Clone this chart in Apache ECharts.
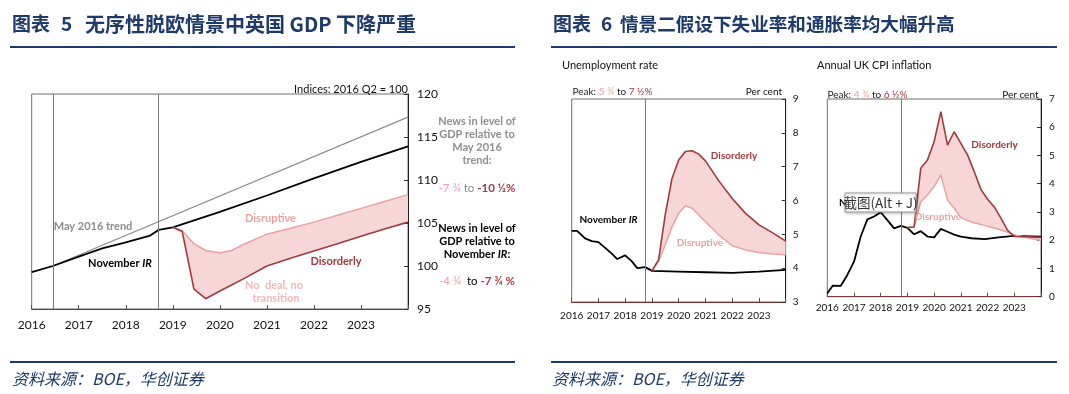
<!DOCTYPE html>
<html><head><meta charset="utf-8">
<script src="https://cdn.jsdelivr.net/npm/echarts@6/dist/echarts.min.js"></script>
<style>html,body{margin:0;padding:0;background:#fff}#c{width:1069px;height:394px}</style>
</head><body><div id="c"></div>
<script>
// ---------- DATA ----------
// Left: UK GDP, index 2016 Q2 = 100
const gdpIRX = [2016, 2016.45, 2017, 2017.5, 2018, 2018.5, 2018.7, 2019, 2020, 2021, 2022, 2023, 2024];
const gdpIR = [99.3, 100.0, 101.1, 102.05, 102.75, 103.5, 104.2, 104.5, 106.3, 108.2, 110.2, 112.1, 113.9];
const gdpTrendX = [2016.45, 2024];
const gdpTrend = [100.0, 117.3];
const gdpScenX = [2019, 2019.2, 2019.45, 2019.7, 2020, 2020.25, 2020.5, 2021, 2021.5, 2022, 2022.5, 2023, 2023.5, 2024];
const gdpDisruptive = [104.5, 104.1, 102.6, 101.8, 101.55, 101.8, 102.5, 103.7, 104.4, 105.1, 105.9, 106.7, 107.5, 108.3];
const gdpDisorderly = [104.5, 104.0, 97.3, 96.2, 97.1, 97.8, 98.5, 100.0, 100.9, 101.75, 102.6, 103.45, 104.3, 105.1];
const gdpRefLines = [2016.45, 2018.7];

// Unemployment rate, per cent
const unIRX = [2016, 2016.2, 2016.5, 2016.75, 2017, 2017.25, 2017.5, 2017.7, 2018, 2018.25, 2018.45, 2018.75, 2019, 2020, 2021, 2022, 2023, 2024];
const unIR = [5.1, 5.1, 4.88, 4.8, 4.77, 4.6, 4.43, 4.27, 4.38, 4.2, 4.0, 4.03, 3.92, 3.9, 3.88, 3.86, 3.9, 3.95];
const unScenX = [2019, 2019.25, 2019.5, 2019.75, 2020, 2020.25, 2020.5, 2020.75, 2021, 2021.5, 2022, 2022.5, 2023, 2023.5, 2024];
const unDisruptive = [3.92, 4.2, 4.7, 5.22, 5.62, 5.84, 5.77, 5.57, 5.37, 4.98, 4.66, 4.54, 4.46, 4.42, 4.40];
const unDisorderly = [3.92, 4.25, 5.6, 6.65, 7.2, 7.45, 7.47, 7.37, 7.17, 6.58, 6.06, 5.62, 5.28, 5.05, 4.8];

// Annual UK CPI inflation, per cent
const cpiIRX = [2016, 2016.2, 2016.5, 2016.75, 2017, 2017.25, 2017.5, 2017.75, 2018, 2018.25, 2018.5, 2018.75, 2019, 2019.25, 2019.5, 2019.75, 2020, 2020.25, 2020.5, 2020.75, 2021, 2021.4, 2021.9, 2022.4, 2023, 2024];
const cpiIR = [0.12, 0.39, 0.38, 0.77, 1.24, 2.13, 2.74, 2.84, 2.99, 2.71, 2.42, 2.51, 2.44, 2.21, 2.32, 2.13, 2.1, 2.4, 2.3, 2.2, 2.13, 2.07, 2.04, 2.1, 2.15, 2.13];
const cpiScenX = [2019, 2019.25, 2019.5, 2019.75, 2020, 2020.25, 2020.5, 2020.75, 2021, 2021.25, 2021.5, 2021.75, 2022, 2022.25, 2022.5, 2022.75, 2023, 2023.5, 2024];
const cpiDisruptive = [2.45, 2.47, 3.36, 3.6, 3.9, 4.31, 3.42, 3.13, 2.8, 2.7, 2.62, 2.56, 2.49, 2.43, 2.36, 2.28, 2.19, 2.09, 1.99];
const cpiDisorderly = [2.45, 2.47, 4.55, 4.84, 5.49, 6.55, 5.37, 5.84, 5.43, 5.02, 4.43, 3.8, 3.45, 3.18, 2.78, 2.35, 2.13, 2.12, 2.1];
const scenRefLine = 2018.75;

const yearTicks = ['2016', '2017', '2018', '2019', '2020', '2021', '2022', '2023'];

// ---------- STYLE ----------
const F = 'Lato, "Open Sans", "Noto Sans", sans-serif';
const CJK = '"Noto Sans CJK SC", sans-serif';
const NAVY = '#1d3a6a';
const C_IR = '#000000', C_TREND = '#8e8e8e', C_DISR = '#e9a3a3', C_DISO = '#a23a3e', C_FILL = '#f6d6d6';

const zip = (xs, ys) => xs.map((x, i) => [x, ys[i]]);

function xAxisCfg(gi, fs, margin) {
  return {
    type: 'value', gridIndex: gi, min: 2016, max: 2024, interval: 1,
    axisLine: { show: true, lineStyle: { color: '#7a3336', width: 1 } },
    axisTick: { show: true, inside: true, length: 4, lineStyle: { color: '#555' } },
    axisLabel: { fontFamily: F, fontSize: fs, color: '#111', margin: margin,
      formatter: v => { const i = Math.round(v - 2016); return yearTicks[i] || ''; } },
    splitLine: { show: false }
  };
}
function yAxisCfg(gi, min, max, interval, fs, margin) {
  return {
    type: 'value', gridIndex: gi, position: 'right', min, max, interval,
    axisLine: { show: true, onZero: false, lineStyle: { color: '#222', width: 1 } },
    axisTick: { show: true, inside: true, length: 4, lineStyle: { color: '#333' } },
    axisLabel: { fontFamily: F, fontSize: fs, color: '#111', margin: margin },
    splitLine: { show: false }
  };
}
function line(gi, data, color, width, extra) {
  return Object.assign({ type: 'line', xAxisIndex: gi, yAxisIndex: gi, data, symbol: 'none',
    lineStyle: { color, width }, silent: true, animation: false, z: 3 }, extra || {});
}
// shaded range between two scenario paths, drawn through the axes' own scales
function band(gi, xs, lower, upper) {
  return {
    type: 'custom', xAxisIndex: gi, yAxisIndex: gi, coordinateSystem: 'cartesian2d',
    silent: true, z: 1, animation: false,
    data: [[xs[0], lower[0]]],
    renderItem: (params, api) => {
      const pts = xs.map((x, i) => api.coord([x, upper[i]]));
      for (let i = xs.length - 1; i >= 0; i--) pts.push(api.coord([xs[i], lower[i]]));
      return { type: 'polygon', shape: { points: pts }, style: { fill: C_FILL, stroke: null } };
    }
  };
}
function refLines(vals) {
  return { silent: true, symbol: 'none', label: { show: false },
    lineStyle: { color: '#7a7a7a', width: 1, type: 'solid' },
    data: vals.map(v => ({ xAxis: v })) };
}

function txt(x, y, text, opts) {
  const o = opts || {};
  return { type: 'text', x, y, silent: true, z: o.z || 50,
    style: { text, font: o.font || ('11px ' + F), fill: o.fill || '#111',
      align: o.align || 'left', verticalAlign: o.va || 'middle' } };
}
function rtxt(x, y, text, rich, align, font) {
  return { type: 'text', x, y, silent: true, z: 50,
    style: { text, rich, font: font || ('11px ' + F), fill: '#000', align: align || 'left', verticalAlign: 'middle' } };
}
const rs = (size, fill, bold, italic) => ({ fontFamily: F, fontSize: size, fill, fontWeight: bold ? 'bold' : 'normal', fontStyle: italic ? 'italic' : 'normal' });

const chart = echarts.init(document.getElementById('c'), null, { renderer: 'canvas' });

const graphics = [
  // titles
  txt(12, 24, '图表', { font: 'bold 19px ' + CJK, fill: NAVY }),
  txt(61, 24, '5', { font: 'bold 19px ' + CJK, fill: NAVY }),
  txt(85, 24, '无序性脱欧情景中英国 GDP 下降严重', { font: 'bold 20px ' + CJK, fill: NAVY }),
  txt(553, 24, '图表', { font: 'bold 19px ' + CJK, fill: NAVY }),
  txt(601, 24, '6', { font: 'bold 19px ' + CJK, fill: NAVY }),
  txt(620, 24, '情景二假设下失业率和通胀率均大幅升高', { font: 'bold 18.6px ' + CJK, fill: NAVY }),
  { type: 'line', silent: true, shape: { x1: 10, y1: 47, x2: 515, y2: 47 }, style: { stroke: NAVY, lineWidth: 2 } },
  { type: 'line', silent: true, shape: { x1: 551, y1: 47, x2: 1057, y2: 47 }, style: { stroke: NAVY, lineWidth: 2 } },
  { type: 'line', silent: true, shape: { x1: 10, y1: 362, x2: 515, y2: 362 }, style: { stroke: NAVY, lineWidth: 2 } },
  { type: 'line', silent: true, shape: { x1: 551, y1: 362, x2: 1057, y2: 362 }, style: { stroke: NAVY, lineWidth: 2 } },
  txt(12, 379, '资料来源：BOE，华创证券', { font: 'italic 16px ' + CJK, fill: NAVY }),
  txt(552, 379, '资料来源：BOE，华创证券', { font: 'italic 16px ' + CJK, fill: NAVY }),

  // GDP panel texts
  txt(408, 89, 'Indices: 2016 Q2 = 100', { font: '11px ' + F, fill: '#111', align: 'right' }),
  txt(93, 226, 'May 2016 trend', { font: 'bold 11px ' + F, fill: C_TREND, align: 'center' }),
  rtxt(120, 263.5, '{n|November }{i|IR}', { n: rs(11, '#000', true), i: rs(11, '#000', true, true) }, 'center'),
  txt(270.5, 218.5, 'Disruptive', { font: 'bold 11px ' + F, fill: C_DISR, align: 'center' }),
  txt(336, 261.5, 'Disorderly', { font: 'bold 11px ' + F, fill: C_DISO, align: 'center' }),
  txt(274, 285, 'No  deal, no', { font: 'bold 11px ' + F, fill: '#f1b8b8', align: 'center' }),
  txt(276, 298.5, 'transition', { font: 'bold 11px ' + F, fill: '#f1b8b8', align: 'center' }),
  txt(477, 121, 'News in level of', { font: 'bold 11px ' + F, fill: C_TREND, align: 'center' }),
  txt(477, 134, 'GDP relative to', { font: 'bold 11px ' + F, fill: C_TREND, align: 'center' }),
  txt(477, 147.5, 'May 2016', { font: 'bold 11px ' + F, fill: C_TREND, align: 'center' }),
  txt(477, 160.5, 'trend:', { font: 'bold 11px ' + F, fill: C_TREND, align: 'center' }),
  rtxt(477, 188, '{a|-7 ¾} {b|to} {c|-10 ½%}', { a: rs(11.5, C_DISR), b: rs(11.5, C_TREND), c: rs(11.5, C_DISO, true) }, 'center'),
  txt(477, 228.5, 'News in level of', { font: 'bold 11px ' + F, fill: '#000', align: 'center' }),
  txt(477, 241.5, 'GDP relative to', { font: 'bold 11px ' + F, fill: '#000', align: 'center' }),
  rtxt(477, 254.5, '{n|November }{i|IR}{n|:}', { n: rs(11, '#000', true), i: rs(11, '#000', true, true) }, 'center'),
  rtxt(477, 281, '{a|-4 ¾}  {b|to} {c|-7 ¾ %}', { a: rs(11.5, C_DISR), b: rs(11.5, '#000'), c: rs(11.5, C_DISO, true) }, 'center'),

  // Unemployment texts
  txt(562, 65.5, 'Unemployment rate', { font: '11px ' + F, fill: '#111' }),
  rtxt(572.5, 92, '{b|Peak: }{a|5 ¾}{b| to }{c|7 ½%}', { a: rs(10, C_DISR), b: rs(10, '#222'), c: rs(10, C_DISO) }, 'left'),
  txt(782, 91.5, 'Per cent', { font: '10px ' + F, fill: '#111', align: 'right' }),
  txt(734, 156, 'Disorderly', { font: 'bold 10px ' + F, fill: C_DISO, align: 'center' }),
  txt(700, 243, 'Disruptive', { font: 'bold 10px ' + F, fill: C_DISR, align: 'center' }),
  rtxt(608.5, 219.5, '{n|November }{i|IR}', { n: rs(10, '#000', true), i: rs(10, '#000', true, true) }, 'center'),

  // CPI texts
  txt(817, 65.5, 'Annual UK CPI inflation', { font: '11px ' + F, fill: '#111' }),
  rtxt(827.5, 94.5, '{b|Peak: }{a|4 ¾}{b| to }{c|6 ½%}', { a: rs(10, C_DISR), b: rs(10, '#222'), c: rs(10, C_DISO) }, 'left'),
  txt(1038.5, 94.5, 'Per cent', { font: '10px ' + F, fill: '#111', align: 'right' }),
  txt(994.5, 145, 'Disorderly', { font: 'bold 10px ' + F, fill: C_DISO, align: 'center' }),
  txt(938, 217, 'Disruptive', { font: 'bold 10px ' + F, fill: C_DISR, align: 'center' }),
  rtxt(839, 203, '{n|November }{i|IR}', { n: rs(10, '#000', true), i: rs(10, '#000', true, true) }, 'left'),
  // screenshot tooltip overlay seen in the reference
  { type: 'rect', silent: true, z: 60, shape: { x: 845, y: 193, width: 71, height: 19 },
    style: { fill: '#fff', stroke: '#9a9a9a', lineWidth: 1, shadowBlur: 3, shadowColor: 'rgba(0,0,0,0.25)', shadowOffsetX: 1, shadowOffsetY: 1 } },
  txt(880.5, 202.5, '截图(Alt + J)', { font: '13.5px ' + CJK, fill: '#333', align: 'center', z: 61 })
];

const option = {
  backgroundColor: '#fff',
  animation: false,
  grid: [
    { left: 31.7, top: 94, width: 376.3, height: 215, show: true, borderColor: '#6f6f6f', borderWidth: 1, containLabel: false },
    { left: 571.7, top: 99, width: 214, height: 203, show: true, borderColor: '#6f6f6f', borderWidth: 1, containLabel: false },
    { left: 827.3, top: 99, width: 213.7, height: 197.7, show: true, borderColor: '#6f6f6f', borderWidth: 1, containLabel: false }
  ],
  xAxis: [xAxisCfg(0, 12, 10), xAxisCfg(1, 10, 9), xAxisCfg(2, 10, 6)],
  yAxis: [yAxisCfg(0, 95, 120, 5, 12, 9), yAxisCfg(1, 3, 9, 1, 10, 7), yAxisCfg(2, 0, 7, 1, 10, 8)],
  series: [
    band(0, gdpScenX, gdpDisorderly, gdpDisruptive),
    line(0, zip(gdpTrendX, gdpTrend), C_TREND, 1.3),
    line(0, zip(gdpIRX, gdpIR), C_IR, 1.8, { markLine: refLines(gdpRefLines) }),
    line(0, zip(gdpScenX, gdpDisruptive), C_DISR, 1.5),
    line(0, zip(gdpScenX, gdpDisorderly), C_DISO, 1.6),

    band(1, unScenX, unDisruptive, unDisorderly),
    line(1, zip(unIRX, unIR), C_IR, 1.8, { markLine: refLines([scenRefLine]) }),
    line(1, zip(unScenX, unDisruptive), C_DISR, 1.5),
    line(1, zip(unScenX, unDisorderly), C_DISO, 1.6),

    band(2, cpiScenX, cpiDisruptive, cpiDisorderly),
    line(2, zip(cpiIRX, cpiIR), C_IR, 1.8, { markLine: refLines([scenRefLine]) }),
    line(2, zip(cpiScenX, cpiDisruptive), C_DISR, 1.5),
    line(2, zip(cpiScenX, cpiDisorderly), C_DISO, 1.6)
  ],
  graphic: graphics
};
chart.setOption(option);
</script></body></html>
